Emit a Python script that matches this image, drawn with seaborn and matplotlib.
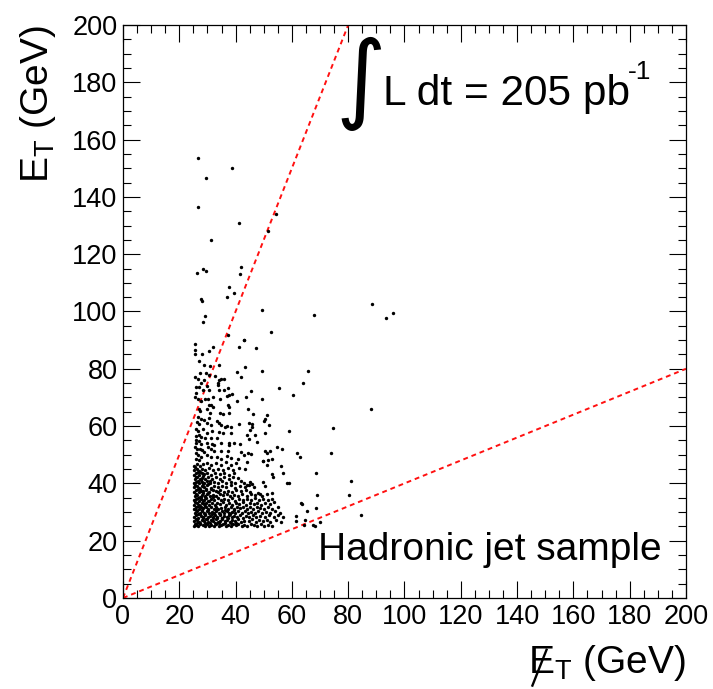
import matplotlib
matplotlib.use('Agg')
import matplotlib.pyplot as plt
import seaborn as sns
import pandas as pd
from matplotlib.ticker import MultipleLocator
from matplotlib.lines import Line2D

# ---------------- data ----------------
x_ticks = [0, 20, 40, 60, 80, 100, 120, 140, 160, 180, 200]
y_ticks = [0, 20, 40, 60, 80, 100, 120, 140, 160, 180, 200]

cut_line_steep_x = [0, 80]
cut_line_steep_y = [0, 200]
cut_line_flat_x = [0, 200]
cut_line_flat_y = [0, 80]

pts_high = [(26.5,153.6),(38.8,150.1),(29.6,146.5),(26.7,136.6),(41.2,131.0),(54.2,134.1),(51.6,128.0),
            (31.3,124.8),(28.3,114.7),(29.6,114.3),(26.4,113.4),(41.8,115.4),(41.6,113.2),(37.7,108.7),
            (39.3,106.3),(36.9,105.0),(27.7,104.3),(28.1,103.6),(49.3,100.6),(67.7,98.9),(88.3,102.5),
            (93.4,97.8),(95.9,99.4),(29.1,98.3),(28.5,96.3),(52.5,93.0),(37.3,91.8),(42.9,90.2),
            (25.6,88.7),(32.1,87.7),(41.1,87.5),(47.1,87.2)]

pts_mid = [(25.7,86.6),(25.7,85.2),(28.1,85.2),(30.4,86.3),(27.1,82.8),(28.8,81.4),(30.9,81.0),(34.0,81.3),
           (40.6,78.9),(27.4,78.4),(29.5,78.4),(25.7,77.0),(26.6,76.3),(28.8,76.1),(30.4,77.9),(32.8,77.5),
           (34.0,76.1),(34.7,76.3),(35.9,76.3),(33.7,75.2),(33.7,74.3),(27.6,74.9),(29.9,74.0),(26.1,73.5),
           (27.0,73.8),(28.3,72.6),(30.6,72.6),(34.0,72.6),(35.8,72.6),(37.3,73.2),(38.7,71.2),(37.5,70.8),
           (36.8,70.5),(26.1,71.4),(25.7,70.3),(26.6,69.6),(27.6,68.9),(29.0,69.3),(30.2,69.6),(32.0,70.3),
           (34.4,69.3),(40.6,68.7),(43.0,90.0),(43.4,80.5),(49.4,79.3),(42.0,77.0),(45.6,72.4),(43.7,70.1),
           (49.4,69.3),(55.5,73.3),(60.5,71.0),
           (30.4,67.5),(31.3,67.3),(32.0,66.6),(37.3,67.3),(37.7,66.6),(27.1,66.1),(27.3,65.2),(29.7,66.1),
           (30.9,64.5),(34.5,64.7),(35.4,64.2),(37.5,64.5),(26.6,63.1),(27.8,62.6),(28.8,62.1),(30.4,62.8),
           (33.3,61.9),(26.4,61.4),(27.1,60.7),(29.7,61.0),(31.3,60.5),(34.2,61.0),(34.9,60.3),(36.1,59.8),
           (37.0,60.0),(38.2,59.6),(41.1,60.7),(25.9,59.1),(26.6,58.4),(28.3,58.9),(29.7,57.7),(31.6,58.2),
           (34.0,57.9),(35.7,57.5),(38.2,57.5),(25.9,56.5),(26.9,57.0),(27.6,56.3),(29.2,55.8),(31.1,55.8),
           (33.5,55.8),(25.9,55.1),(26.1,54.2),(27.1,54.7),(27.8,53.8),(29.9,54.2),(31.6,53.8),(32.5,53.3),
           (34.9,54.0),(37.5,54.2),(37.7,53.3),(39.6,54.0),(41.6,53.8),(25.7,52.8),(26.4,51.9),(27.3,52.1),
           (28.1,51.7),(28.8,51.0),(30.2,52.8),(31.1,51.9),(32.3,51.4),(34.9,51.2),(37.3,51.4),(25.9,50.5),
           (26.6,49.8),(27.8,49.3),(25.9,48.6),(27.1,48.2),(29.7,49.8),(31.3,49.3),(33.3,49.1),(34.9,48.4),
           (36.8,49.6),(38.4,48.9),(40.8,48.4),(42.0,51.1),
           (44.4,66.1),(46.3,64.2),(51.2,63.8),(50.5,62.6),(50.1,61.9),(44.6,61.2),(46.0,60.7),(45.8,59.6),
           (45.1,58.6),(51.8,60.5),(44.1,57.0),(44.8,55.4),(47.0,56.8),(47.7,54.5),(50.3,57.5),(58.9,58.2),
           (54.6,52.8),(56.5,51.9),(50.5,51.4),(51.0,50.5),(52.4,51.4),(43.0,50.0),(44.4,50.5),(45.6,50.3),
           (61.7,50.7),(52.9,48.6),(51.5,48.2),(49.8,47.7),(62.9,49.3)]

pts_right = [(65.8,79.1),(64.1,75.2),(88.2,66.1),(74.7,59.3),(73.8,50.5),(68.6,43.5),(80.9,40.8),
             (80.2,36.1),(69.0,36.0),(63.1,33.3),(63.6,32.8),(68.6,31.4),(65.5,30.5),(84.4,28.9),
             (64.5,27.2),(64.3,25.4),(67.4,25.6),(68.3,25.2),(70.0,26.5),(58.3,40.2),(59.1,40.3),
             (61.6,28.6),(61.3,27.0)]

pts_core = [
    # y ~ 25-26
    (25.2,25.3),(25.9,25.6),(26.7,25.2),(27.5,25.8),(28.3,25.4),(29.1,25.3),(29.8,25.9),(30.6,25.2),
    (31.4,25.6),(32.3,25.3),(33.1,25.8),(34.0,25.2),(34.8,25.5),(35.7,25.9),(36.5,25.3),(37.4,25.6),
    (38.3,25.2),(39.2,25.7),(40.1,25.4),(41.0,25.9),(42.1,25.3),(43.0,25.6),(44.2,25.2),(45.3,25.8),
    (46.5,25.4),(47.6,25.3),(48.9,25.7),(50.2,25.3),(51.6,25.5),(53.0,25.2),
    # y ~ 26-27.5
    (25.4,26.7),(26.2,27.1),(27.0,26.5),(27.9,27.3),(28.7,26.8),(29.5,27.4),(30.3,26.6),(31.2,27.2),
    (32.0,26.9),(32.9,27.5),(33.6,26.4),(34.5,27.0),(35.3,27.6),(36.2,26.7),(37.0,27.3),(38.0,26.5),
    (38.9,27.1),(39.8,26.8),(40.7,27.4),(41.8,26.6),(43.1,27.0),(44.6,26.9),(45.9,27.5),(47.3,26.5),
    (48.2,27.2),(49.8,26.8),(51.0,27.3),(52.4,26.6),(54.5,27.1),(56.0,26.4),
    # y ~ 27.5-29
    (25.3,28.2),(26.0,28.8),(26.8,28.0),(27.6,28.6),(28.5,28.3),(29.3,28.9),(30.1,28.1),(31.0,28.7),
    (31.8,28.4),(32.6,29.0),(33.5,28.2),(34.3,28.8),(35.1,28.0),(36.0,28.6),(36.9,28.3),(37.8,28.9),
    (38.6,28.1),(39.5,28.7),(40.5,28.4),(41.5,28.9),(42.6,28.0),(43.8,28.6),(44.9,28.2),(46.1,28.8),
    (47.2,28.3),(48.6,28.7),(50.4,28.1),(51.9,28.8),(53.6,28.4),(55.2,28.9),(56.8,28.2),
    # y ~ 29-30.5
    (25.5,29.7),(26.3,30.3),(27.2,29.6),(28.0,30.2),(28.9,29.8),(29.7,30.4),(30.6,29.5),(31.5,30.1),
    (32.4,29.7),(33.2,30.3),(34.1,29.6),(35.0,30.2),(35.9,29.8),(36.8,30.4),(37.6,29.5),(38.7,30.0),
    (39.9,29.6),(41.0,30.3),(42.3,29.7),(43.5,30.2),(44.5,29.5),(45.6,30.1),(46.8,29.8),(48.0,30.4),
    (49.3,29.6),(50.7,30.1),(52.2,29.8),(54.0,30.3),(55.8,29.7),
    # y ~ 30.5-32
    (25.2,31.2),(26.0,31.7),(26.9,31.0),(27.7,31.6),(28.6,31.3),(29.4,31.9),(30.3,31.1),(31.3,31.7),
    (32.2,31.2),(33.0,31.8),(33.9,31.0),(34.9,31.5),(36.1,31.9),(37.2,31.2),(38.3,31.7),(39.3,31.0),
    (40.4,31.6),(41.6,31.3),(42.8,31.8),(44.0,31.1),(45.2,31.6),(46.3,31.2),(47.5,31.9),(48.8,31.4),
    (50.0,31.0),(51.4,31.7),(53.1,31.2),(55.0,31.6),
    # y ~ 32-33.5
    (25.4,32.6),(26.2,33.2),(27.1,32.5),(27.9,33.0),(28.8,32.7),(29.6,33.3),(30.5,32.4),(31.6,33.1),
    (32.6,32.6),(33.5,33.2),(34.6,32.8),(35.6,33.4),(36.5,32.5),(37.7,33.0),(38.9,32.6),(40.1,33.3),
    (41.3,32.8),(42.5,33.4),(43.7,32.5),(45.0,33.1),(46.4,32.7),(47.7,33.3),(49.0,32.6),(50.6,33.0),
    (52.3,32.8),(53.8,33.4),
    # y ~ 33.5-35
    (25.3,34.1),(26.1,34.6),(26.9,34.0),(27.8,34.5),(28.7,34.2),(29.5,34.8),(30.4,34.0),(31.4,34.6),
    (32.5,34.2),(33.7,34.8),(34.8,34.1),(36.0,34.7),(37.3,34.3),(38.6,34.9),(39.8,34.0),(41.2,34.5),
    (42.6,34.1),(44.0,34.7),(45.5,34.3),(47.0,34.8),(48.4,34.2),(49.9,34.6),(51.5,34.1),(52.9,34.7),
    # y ~ 35-36.5
    (25.5,35.6),(26.3,36.1),(27.2,35.4),(28.1,36.0),(29.0,35.7),(29.9,36.3),(30.9,35.5),(32.0,36.1),
    (33.2,35.6),(34.3,36.2),(35.6,35.8),(36.8,36.4),(38.1,35.5),(39.5,36.0),(41.0,35.6),(42.4,36.2),
    (43.9,35.7),(45.4,36.3),(46.9,35.8),(48.7,36.3),(49.4,35.6),(51.2,36.3),(52.9,36.5),
    # y ~ 36.5-38
    (25.2,37.1),(26.0,37.6),(26.9,37.0),(27.8,37.5),(28.6,37.2),(29.6,37.8),(30.7,37.1),(31.9,37.6),
    (33.1,37.2),(34.5,37.8),(35.8,37.0),(37.3,37.5),(38.8,37.1),(40.3,37.7),(41.9,37.2),(43.6,37.6),
    (45.2,37.0),(47.9,36.8),
    # y ~ 38-39.5
    (25.4,38.6),(26.2,39.1),(27.1,38.4),(28.0,39.0),(28.9,38.7),(29.9,39.3),(31.1,38.5),(32.4,39.1),
    (33.8,38.6),(35.2,39.2),(36.7,38.7),(38.3,39.3),(39.9,38.5),(41.5,39.0),(43.2,38.8),(44.6,39.4),
    (46.7,38.9),(50.3,39.1),
    # y ~ 39.5-41
    (25.3,40.1),(26.1,40.6),(27.0,40.0),(27.9,40.5),(28.8,40.2),(29.8,40.8),(31.0,40.1),(32.3,40.6),
    (33.7,40.3),(35.1,40.8),(36.6,40.0),(38.2,40.5),(39.9,40.2),(42.0,40.7),(43.0,40.0),(43.9,39.6),
    (45.1,40.5),(45.8,39.8),(49.8,40.5),
    # y ~ 41-42.5
    (25.5,41.6),(26.3,42.1),(27.2,41.4),(28.1,42.0),(29.1,41.7),(30.2,42.3),(31.5,41.5),(32.9,42.1),
    (34.4,41.7),(35.9,42.3),(37.5,41.6),(39.2,42.2),(41.0,41.8),(53.4,42.1),
    # y ~ 42.5-44
    (25.2,43.1),(26.0,43.6),(26.9,43.0),(27.9,43.5),(28.9,43.2),(30.0,43.8),(31.3,43.0),(32.8,43.6),
    (34.3,43.2),(35.9,43.8),(37.6,43.1),(39.4,43.7),(53.1,43.3),(56.7,43.5),
    # y ~ 44-45.5
    (25.4,44.6),(26.2,45.1),(27.1,44.4),(28.2,45.0),(29.3,44.7),(30.6,45.3),(32.1,44.5),(33.7,45.1),
    (35.4,44.7),(37.2,45.3),(39.1,44.6),(41.2,45.2),(43.4,45.1),
    # y ~ 45.5-48
    (25.3,46.2),(26.2,46.8),(27.3,46.0),(28.5,46.6),(29.8,47.2),(31.4,46.3),(33.0,47.0),(34.8,46.5),
    (36.6,47.3),(38.5,46.4),(40.3,47.1),(43.9,47.5),(49.6,47.7),(51.2,46.3),(56.0,46.1),
]

pts_core_fill = [(25.6,25.9),(26.4,26.0),(25.8,27.6),(26.6,29.2),(25.9,30.8),(26.7,32.2),(25.7,33.6),
                 (26.5,35.0),(25.8,36.4),(26.6,38.0),(25.7,39.4),(26.5,41.0),(25.9,42.4),(26.7,44.0),
                 (25.7,45.6),(27.5,26.3),(28.3,27.8),(27.4,29.3),(28.2,30.7),(27.5,32.0),(28.4,33.8),
                 (27.6,35.1),(28.5,36.6),(27.4,38.1),(28.4,39.7),(27.6,41.1),(28.5,42.6),(27.5,44.1),
                 (29.2,26.2),(30.0,27.7),(29.3,29.2),(30.1,30.6),(29.2,32.1),(30.2,33.7),(29.3,35.1),
                 (30.2,36.6),(29.4,38.1),(30.3,39.7),(31.0,26.1),(31.8,27.9),(32.7,26.2),(33.4,28.0),
                 (34.2,26.1),(35.0,27.8),(36.4,26.1),(37.2,27.9),(38.4,26.2),(40.0,26.1),(31.6,29.4),
                 (33.0,30.8),(34.6,29.3),(36.2,30.7),(37.9,29.3),(39.6,30.8),(32.0,35.2),(33.6,36.9),
                 (31.2,38.0),(30.8,41.0)]

all_pts = pts_core + pts_core_fill + pts_mid + pts_high + pts_right
df = pd.DataFrame(all_pts, columns=['met', 'et'])

# ---------------- style ----------------
sns.set_style('ticks')
plt.rcParams['font.family'] = ['Liberation Sans', 'DejaVu Sans']
plt.rcParams['mathtext.fontset'] = 'custom'
plt.rcParams['mathtext.rm'] = 'Liberation Sans'
plt.rcParams['mathtext.it'] = 'Liberation Sans:italic'
plt.rcParams['mathtext.bf'] = 'Liberation Sans:bold'
plt.rcParams['text.color'] = 'black'
plt.rcParams['axes.labelcolor'] = 'black'
plt.rcParams['xtick.color'] = 'black'
plt.rcParams['ytick.color'] = 'black'

fig = plt.figure(figsize=(7.13, 6.89), dpi=100)
ax = fig.add_axes([0.1725, 0.1321, 0.7896, 0.8316])

sns.scatterplot(data=df, x='met', y='et', color='black', s=6, linewidth=0,
                marker='o', ax=ax, legend=False, zorder=3)

ax.plot(cut_line_steep_x, cut_line_steep_y, color='#ff1010', lw=1.4, dashes=(2.5, 2.0), zorder=2)
ax.plot(cut_line_flat_x, cut_line_flat_y, color='#ff1010', lw=1.4, dashes=(2.5, 2.0), zorder=2)

ax.set_xlim(0, 200)
ax.set_ylim(0, 200)
ax.set_xticks(x_ticks)
ax.set_yticks(y_ticks)
ax.xaxis.set_minor_locator(MultipleLocator(5))
ax.yaxis.set_minor_locator(MultipleLocator(5))
ax.tick_params(which='both', direction='in', top=True, right=True, width=0.8, color='black',
               labelcolor='black')
ax.tick_params(which='major', length=12, labelsize=19.5, pad=4)
ax.tick_params(which='minor', length=6)
for s in ax.spines.values():
    s.set_linewidth(0.9)
    s.set_color('black')

ax.set_xlabel(r'E$_{\mathrm{T}}$ (GeV)', fontsize=28, loc='right', color='black')
ax.set_ylabel(r'E$_{\mathrm{T}}$ (GeV)', fontsize=28, loc='top', color='black')
ax.xaxis.set_label_coords(1.0, -0.078)
ax.yaxis.set_label_coords(-0.115, 1.0)

# slash through the E of the x-axis title (missing E_T), drawn as a stroke
fig.canvas.draw()
bb = ax.xaxis.label.get_window_extent()
W, H = fig.bbox.width, fig.bbox.height
slash = Line2D([(bb.x0 + 4) / W, (bb.x0 + 19) / W],
               [(bb.y1 - 44) / H, (bb.y1 - 6) / H],
               transform=fig.transFigure, color='black', lw=1.7, solid_capstyle='butt')
fig.add_artist(slash)

ax.text(0.423, 0.897, '\u222b', transform=ax.transAxes, fontsize=70, ha='center', va='center',
        family='DejaVu Sans', color='black')
ax.text(0.462, 0.860, 'L dt = 205 pb', transform=ax.transAxes, fontsize=30.5, ha='left', va='baseline')
ax.text(0.897, 0.905, '-1', transform=ax.transAxes, fontsize=19, ha='left', va='baseline')
ax.text(0.346, 0.066, 'Hadronic jet sample', transform=ax.transAxes, fontsize=28, ha='left', va='baseline')

fig.savefig('out.png', dpi=100)
